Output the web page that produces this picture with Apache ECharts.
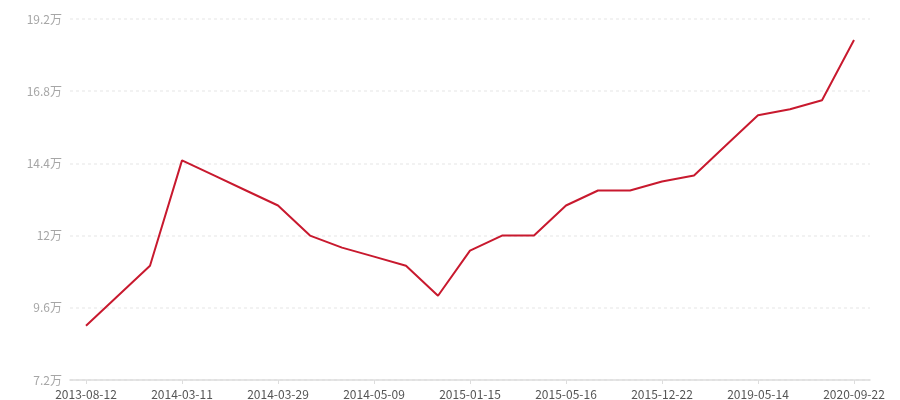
<!DOCTYPE html>
<html>
<head>
<meta charset="utf-8">
<script src="https://cdn.jsdelivr.net/npm/echarts@6/dist/echarts.min.js"></script>
<style>
html,body{margin:0;padding:0;background:#fff;}
#main{width:900px;height:400px;}
</style>
</head>
<body>
<div id="main"></div>
<script>
var categories = [
  '2013-08-12','2013-11-20','2014-01-15','2014-03-11','2014-03-17',
  '2014-03-23','2014-03-29','2014-04-08','2014-04-22','2014-05-09',
  '2014-08-20','2014-11-12','2015-01-15','2015-03-02','2015-04-10',
  '2015-05-16','2015-07-28','2015-10-09','2015-12-22','2016-09-18',
  '2018-01-05','2019-05-14','2019-11-26','2020-04-08','2020-09-22'
];
var values = [
  90000, 100000, 110000, 145000, 140000,
  135000, 130000, 120000, 116000, 113000,
  110000, 100000, 115000, 120000, 120000,
  130000, 135000, 135000, 138000, 140000,
  150000, 160000, 162000, 165000, 185000
];
var yMin = 72000, yMax = 192000, yInterval = 24000;

var chart = echarts.init(document.getElementById('main'));
chart.setOption({
  animation: false,
  grid: {left: 70, right: 30, top: 19, bottom: 20, containLabel: false},
  xAxis: {
    type: 'category',
    data: categories,
    boundaryGap: true,
    axisLine: {lineStyle: {color: '#dddddd', width: 1.5}},
    axisTick: {show: true, alignWithLabel: true, interval: 2, length: 4, lineStyle: {color: '#dddddd'}},
    axisLabel: {interval: 2, color: '#555555', fontSize: 12, margin: 8,
      fontFamily: '"Noto Sans CJK SC", "Noto Sans", sans-serif'},
    splitLine: {show: false}
  },
  yAxis: {
    type: 'value',
    min: yMin, max: yMax, interval: yInterval,
    axisLine: {show: false},
    axisTick: {show: false},
    axisLabel: {color: '#a6a6a6', fontSize: 12, margin: 8,
      fontFamily: '"Noto Sans CJK SC", "Noto Sans", sans-serif',
      formatter: function (v) { return (Math.round(v / 1000) / 10) + '万'; }},
    splitLine: {show: true, lineStyle: {color: '#eeeeee', type: [3, 3], width: 1.5}}
  },
  series: [{
    type: 'line',
    data: values,
    showSymbol: false,
    symbol: 'none',
    lineStyle: {color: '#c8192e', width: 2},
    itemStyle: {color: '#c8192e'}
  }]
});
</script>
</body>
</html>
